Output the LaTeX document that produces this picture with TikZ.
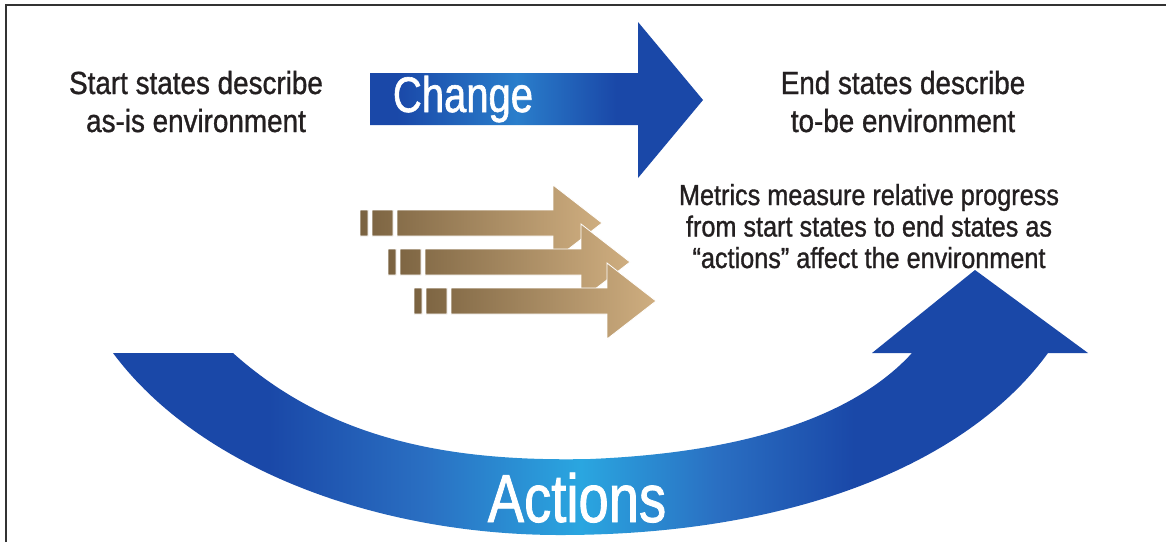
\documentclass[tikz,border=0pt]{standalone}
\usepackage{fontspec}
\setmainfont{Liberation Sans}[FakeStretch=0.87, FakeBold=1]
\newfontfamily\condfont{Liberation Sans}[FakeStretch=0.8, FakeBold=1.2]
\definecolor{framegray}{HTML}{333333}
\definecolor{txt}{HTML}{231F20}
\definecolor{bluedark}{HTML}{1A48A8}
\definecolor{bluemid}{HTML}{2A6FC2}
\definecolor{bluelight}{HTML}{2AA6E0}
\definecolor{bluechange}{HTML}{2A7ECB}
\definecolor{tandark}{HTML}{7A6240}
\definecolor{tanlight}{HTML}{CFAE80}
% TikZ maps 25bp..75bp of a shading onto the path's bounding box
\pgfdeclarehorizontalshading{changeshade}{100bp}{
  color(0bp)=(bluedark); color(29bp)=(bluedark); color(47bp)=(bluechange);
  color(62bp)=(bluedark); color(100bp)=(bluedark)}
\pgfdeclarehorizontalshading{actionshade}{100bp}{
  color(0bp)=(bluedark); color(33bp)=(bluedark); color(41bp)=(bluemid);
  color(49bp)=(bluelight); color(56bp)=(bluemid); color(63bp)=(bluedark);
  color(100bp)=(bluedark)}
\tikzset{
  labeltext/.style={text=txt, inner sep=0pt, align=center, anchor=base},
  bigtext/.style={labeltext, font=\fontsize{32}{38}\selectfont},
  midtext/.style={labeltext, font=\fontsize{29}{31.5}\selectfont},
  arrowtext/.style={text=white, inner sep=0pt, anchor=base},
  changearrow/.style={shading=changeshade},
  actionarrow/.style={shading=actionshade},
  tanarrow/.style={left color=tandark, right color=tanlight, draw=white, line width=0.8pt},
  framestyle/.style={draw=framegray, line width=2pt}
}
\begin{document}
\begin{tikzpicture}[x=1pt, y=-1pt]
\useasboundingbox (0,0) rectangle (1166,542);
\fill[white] (0,0) rectangle (1166,542);
% frame
\draw[framestyle] (6,542) -- (6,5) -- (1166,5);

% Change arrow
\path[changearrow] (370,73) -- (638,73) -- (638,22) -- (703,100) -- (638,178) -- (638,125) -- (370,125) -- cycle;
\node[arrowtext, font=\condfont\fontsize{50}{50}\selectfont] (change) at (463,112) {Change};

% tan arrows
\foreach \dx/\dy [count=\i] in {0/0, 28/39, 54/78} {
  \begin{scope}[shift={(\dx,\dy)}]
    \path[tanarrow] (360,210) rectangle (368,236) (372,210) rectangle (393,236)
      (397,210) -- (553,210) -- (553,185) -- (602,223) -- (553,261) -- (553,236) -- (397,236) -- cycle;
  \end{scope}
}

% Actions arrow
\path[actionarrow] (113,353) -- (233,353)
  .. controls (330,440) and (450,462) .. (590,459)
  .. controls (760,452) and (860,410) .. (912,353)
  -- (872,353) -- (975,270) -- (1088,353) -- (1048,353)
  .. controls (970,460) and (800,535) .. (560,535)
  .. controls (380,535) and (200,470) .. (113,353) -- cycle;
\node[arrowtext, font=\condfont\fontsize{68}{68}\selectfont] (actions) at (577,522) {Actions};

% texts (base anchor = baseline of last line)
\node[bigtext] (start) at (196,132) {Start states describe\\as-is environment};
\node[bigtext] (end) at (903,132) {End states describe\\to-be environment};
\node[midtext] (metrics) at (869,268) {Metrics measure relative progress\\from start states to end states as\\“actions” affect the environment};
\end{tikzpicture}
\end{document}
